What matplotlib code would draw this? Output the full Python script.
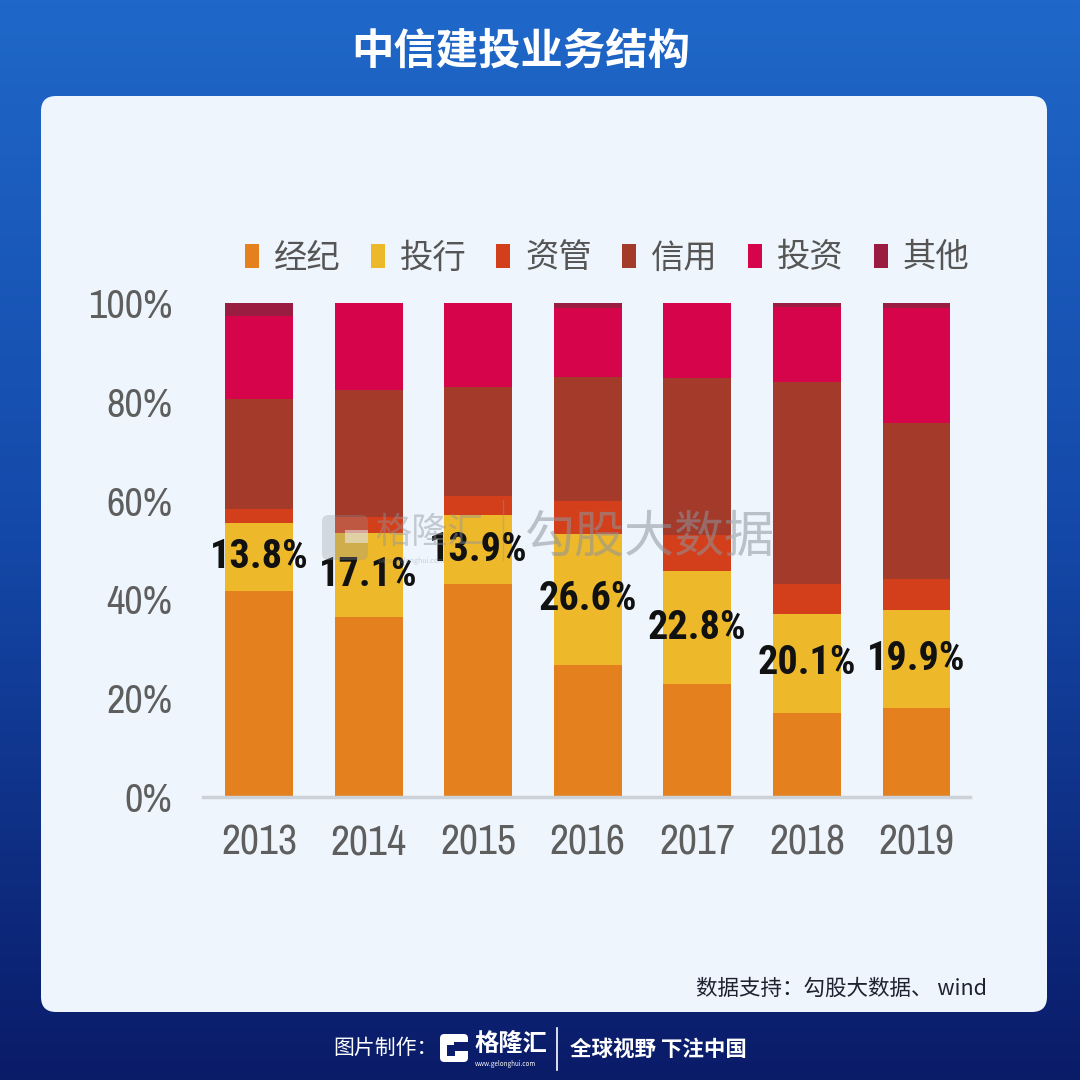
import numpy as np
import matplotlib
matplotlib.use("Agg")
import matplotlib.pyplot as plt
from matplotlib import font_manager
from matplotlib.patches import FancyBboxPatch, Rectangle
from matplotlib.lines import Line2D

# Data (share of revenue, %)
years = ["2013", "2014", "2015", "2016", "2017", "2018", "2019"]
series = ["经纪", "投行", "资管", "信用", "投资", "其他"]
brokerage = [41.6, 36.4, 43.1, 26.7, 22.9, 17.0, 18.0]
ib = [13.8, 17.1, 13.9, 26.6, 22.8, 20.1, 19.9]
asset_mgmt = [2.8, 3.1, 3.9, 6.6, 7.3, 6.1, 6.2]
credit = [22.4, 25.7, 22.1, 25.1, 31.8, 40.9, 31.6]
invest = [16.8, 17.7, 17.0, 14.0, 15.2, 15.0, 23.3]
other = [2.6, 0.0, 0.0, 1.0, 0.0, 0.9, 1.0]
ib_labels = ["13.8%", "17.1%", "13.9%", "26.6%", "22.8%", "20.1%", "19.9%"]

colors = ["#E5801F", "#EDB82A", "#D43F1B", "#A33A2A", "#D6044B", "#9A1C40"]

CJK = "Noto Sans CJK SC"
faces = {(f.name, int(f.weight) if str(f.weight).isdigit() else 400)
         for f in font_manager.fontManager.ttflist}
fams = {n for n, w in faces}


def pick(prefs, bold=False):
    for p in prefs:
        if p in fams and (not bold or any(n == p and w >= 700 for n, w in faces)):
            return p
    return "Liberation Sans"


NUM = pick(["Archivo Narrow", "Roboto Condensed", "PT Sans Narrow", "Liberation Sans"])
NUMB = pick(["Roboto Condensed", "PT Sans Narrow", "Archivo Narrow", "Liberation Sans"], bold=True)
plt.rcParams["font.family"] = [CJK, "DejaVu Sans"]

W = H = 1080


def fx(x):
    return x / W


def fy(y):
    return 1 - y / H


fig = plt.figure(figsize=(10.8, 10.8), dpi=100)

# blue gradient background
bg = fig.add_axes([0, 0, 1, 1], zorder=-2)
bg.set_axis_off()
t = np.linspace(0, 1, 300)[:, None] * np.ones((1, 300))
top = np.array([0x1F, 0x68, 0xC9]) / 255
mid = np.array([0x14, 0x48, 0xA8]) / 255
bot = np.array([0x0A, 0x1B, 0x68]) / 255
img = np.where((t < 0.5)[..., None],
               top + (mid - top) * (t / 0.5)[..., None],
               mid + (bot - mid) * ((t - 0.5) / 0.5)[..., None])
bg.imshow(np.clip(img, 0, 1), extent=[0, 1, 0, 1], aspect="auto")
bg.set_xlim(0, 1)
bg.set_ylim(0, 1)

# light panel
panel = FancyBboxPatch((fx(41), fy(1012)), fx(1047) - fx(41), fy(96) - fy(1012),
                       boxstyle="round,pad=0,rounding_size=0.014",
                       transform=fig.transFigure, facecolor="#EEF5FC",
                       edgecolor="none", zorder=-1)
fig.patches.append(panel)

# title
fig.text(fx(521), fy(52), "中信建投业务结构", color="white", fontsize=30.5,
         fontweight="bold", ha="center", va="center")

# chart
ax = fig.add_axes([fx(203), fy(797), fx(970) - fx(203), fy(303) - fy(797)], zorder=1)
ax.set_facecolor("none")
x = np.arange(len(years))
bottom = np.zeros(len(years))
bars = []
for vals, c, name in zip([brokerage, ib, asset_mgmt, credit, invest, other], colors, series):
    b = ax.bar(x, vals, 0.62, bottom=bottom, color=c, label=name, zorder=2)
    bars.append(b)
    bottom = bottom + np.array(vals)

# investment-banking share labels
for i, lab in enumerate(ib_labels):
    yc = brokerage[i] + ib[i] / 2
    ax.text(x[i], yc, lab, ha="center", va="center", fontsize=29,
            fontweight="bold", family=NUMB, color="#111111", zorder=4)

ax.set_xlim(-0.511, 6.488)
ax.set_ylim(0, 100)
ax.set_yticks([0, 20, 40, 60, 80, 100])
ax.set_yticklabels(["0%", "20%", "40%", "60%", "80%", "100%"])
ax.set_xticks(x)
ax.set_xticklabels(years)
ax.tick_params(axis="y", length=0, pad=22, labelsize=29, labelcolor="#5E5E5E")
ax.tick_params(axis="x", length=0, pad=19, labelsize=30, labelcolor="#5E5E5E")
for lab in ax.get_xticklabels() + ax.get_yticklabels():
    lab.set_family(NUM)
for sp in ["top", "right", "left"]:
    ax.spines[sp].set_visible(False)
ax.spines["bottom"].set_color("#CDD2D8")
ax.spines["bottom"].set_linewidth(2.5)

leg = ax.legend(handles=[b for b in bars], loc="center",
                bbox_to_anchor=(fx(607), fy(258)), bbox_transform=fig.transFigure,
                ncol=6, frameon=False, fontsize=24, labelcolor="#555555",
                handlelength=0.42, handleheight=0.75, handletextpad=0.45,
                columnspacing=0.9, borderpad=0)

# watermark
wm_col = "#8E959E"
fig.text(fx(525), fy(537), "勾股大数据", color=wm_col, alpha=0.55, fontsize=36,
         ha="left", va="center", zorder=5)
fig.text(fx(376), fy(533), "格隆汇", color=wm_col, alpha=0.45, fontsize=26,
         ha="left", va="center", zorder=5)
fig.text(fx(378), fy(561), "www.gelonghui.com", color=wm_col, alpha=0.4, fontsize=5,
         ha="left", va="center", zorder=5)
fig.patches.append(FancyBboxPatch((fx(322), fy(560)), fx(46), fy(515) - fy(560),
                                  boxstyle="round,pad=0,rounding_size=0.006",
                                  transform=fig.transFigure, facecolor=wm_col,
                                  alpha=0.3, edgecolor="none", zorder=5))
fig.patches.append(Rectangle((fx(345), fy(543)), fx(23), fy(530) - fy(543),
                             transform=fig.transFigure, facecolor="#EEF5FC",
                             alpha=0.5, edgecolor="none", zorder=5))
fig.lines.append(Line2D([fx(503), fx(503)], [fy(500), fy(560)], color=wm_col,
                        alpha=0.4, lw=1, transform=fig.transFigure, zorder=5))

# source note
fig.text(fx(987), fy(989), "数据支持：勾股大数据、 wind", color="#1E2230", fontsize=15.5,
         ha="right", va="center")

# footer
fig.text(fx(333), fy(1048), "图片制作：", color="white", fontsize=15, ha="left", va="center")
fig.patches.append(FancyBboxPatch((fx(440), fy(1062)), fx(28), fy(1034) - fy(1062),
                                  boxstyle="round,pad=0,rounding_size=0.004",
                                  transform=fig.transFigure, facecolor="white",
                                  edgecolor="none", zorder=3))
fig.patches.append(Rectangle((fx(454), fy(1051)), fx(15), fy(1042) - fy(1051),
                             transform=fig.transFigure, facecolor="#0B1D6B",
                             edgecolor="none", zorder=4))
fig.patches.append(Rectangle((fx(447), fy(1056)), fx(8), fy(1045) - fy(1056),
                             transform=fig.transFigure, facecolor="#0B1D6B",
                             edgecolor="none", zorder=4))
fig.text(fx(474), fy(1044), "格隆汇", color="white", fontsize=17.5, fontweight="bold",
         ha="left", va="center")
fig.text(fx(475), fy(1064), "www.gelonghui.com", color="white", fontsize=4.5,
         ha="left", va="center")
fig.lines.append(Line2D([fx(557), fx(557)], [fy(1028), fy(1070)], color="white",
                        lw=1.2, transform=fig.transFigure))
fig.text(fx(570), fy(1049), "全球视野 下注中国", color="white", fontsize=15.5,
         fontweight="bold", ha="left", va="center")

fig.savefig("out.png", dpi=100)
